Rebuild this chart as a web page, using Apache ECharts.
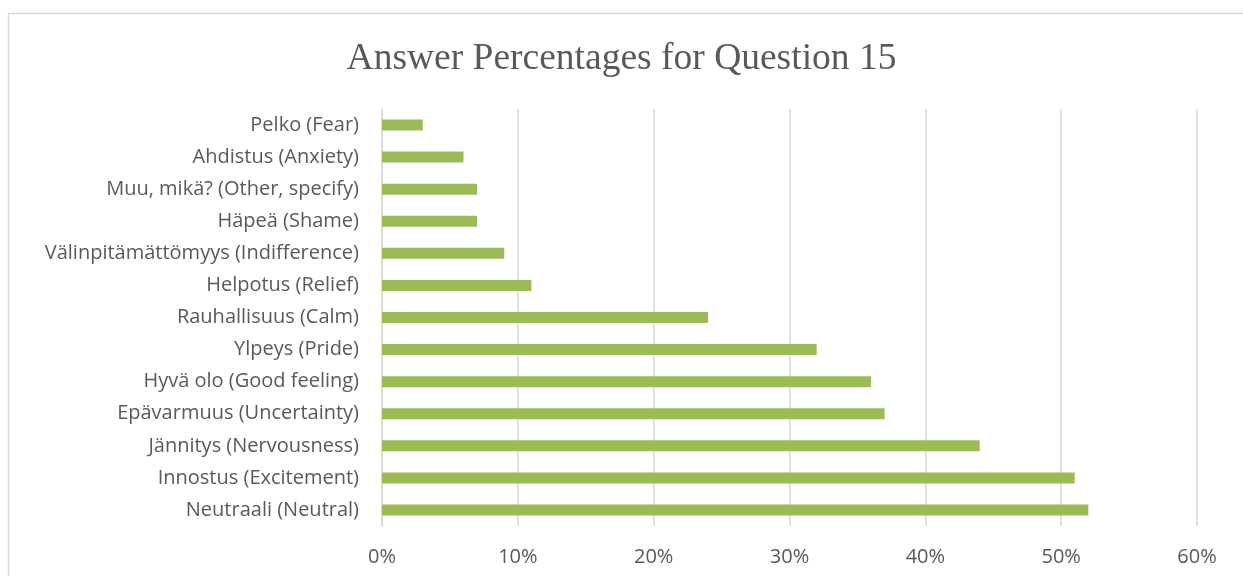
<!DOCTYPE html>
<html>
<head>
<meta charset="utf-8">
<style>
html,body{margin:0;padding:0;background:#fff;}
#chart{width:1243px;height:576px;}
</style>
<script src="https://cdn.jsdelivr.net/npm/echarts@6/dist/echarts.min.js"></script>
</head>
<body>
<div id="chart"></div>
<script>
const titleText = 'Answer Percentages for Question 15';
const categories = [
  'Pelko (Fear)',
  'Ahdistus (Anxiety)',
  'Muu, mikä? (Other, specify)',
  'Häpeä (Shame)',
  'Välinpitämättömyys (Indifference)',
  'Helpotus (Relief)',
  'Rauhallisuus (Calm)',
  'Ylpeys (Pride)',
  'Hyvä olo (Good feeling)',
  'Epävarmuus (Uncertainty)',
  'Jännitys (Nervousness)',
  'Innostus (Excitement)',
  'Neutraali (Neutral)'
];
const percentages = [3, 6, 7, 7, 9, 11, 24, 32, 36, 37, 44, 51, 52];
const xTicks = [0, 10, 20, 30, 40, 50, 60];

const chart = echarts.init(document.getElementById('chart'), null, {renderer: 'canvas'});
chart.setOption({
  animation: false,
  backgroundColor: '#ffffff',
  graphic: [{
    type: 'rect',
    shape: {x: 8.5, y: 13.5, width: 1300, height: 700},
    style: {fill: 'none', stroke: '#d9d9d9', lineWidth: 1.5},
    silent: true
  }],
  title: {
    text: titleText,
    left: 'center',
    top: 35,
    textStyle: {
      fontFamily: '"Liberation Serif", "Times New Roman", serif',
      fontSize: 37.5,
      fontWeight: 'normal',
      color: '#595959'
    }
  },
  grid: {left: 382, right: 46, top: 109, bottom: 50, containLabel: false},
  xAxis: {
    type: 'value',
    min: xTicks[0],
    max: xTicks[xTicks.length - 1],
    interval: 10,
    axisLine: {show: false},
    axisTick: {show: false},
    splitLine: {show: true, lineStyle: {color: '#d9d9d9', width: 1.5}},
    axisLabel: {
      formatter: v => v + '%',
      margin: 21,
      fontFamily: '"Open Sans", "Noto Sans", sans-serif',
      fontSize: 20,
      color: '#595959'
    }
  },
  yAxis: {
    type: 'category',
    data: categories,
    inverse: true,
    axisLine: {show: true, lineStyle: {color: '#d9d9d9', width: 1.5}},
    axisTick: {show: false},
    axisLabel: {
      margin: 23,
      fontFamily: '"Open Sans", "Noto Sans", sans-serif',
      fontSize: 20,
      color: '#595959'
    }
  },
  series: [{
    type: 'bar',
    data: percentages,
    barWidth: 11,
    itemStyle: {color: '#9bbb59'}
  }]
});
</script>
</body>
</html>
